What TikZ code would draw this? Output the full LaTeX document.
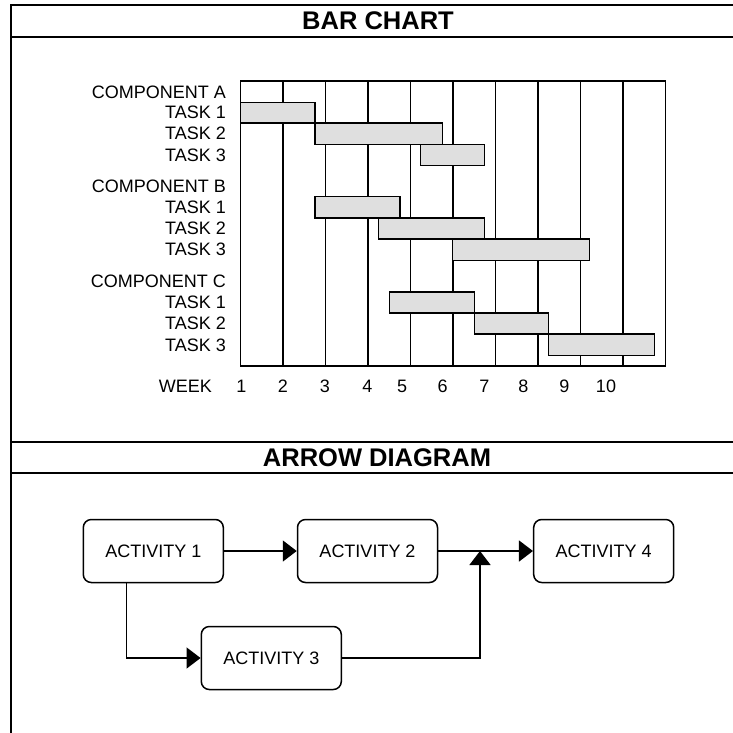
\documentclass[tikz,border=0pt]{standalone}
\usepackage{fontspec}
\setmainfont{Liberation Sans}
\usetikzlibrary{arrows.meta}
\tikzset{
  frameline/.style={line width=2pt},
  gridline/.style={line width=1.4pt},
  bar/.style={draw, fill=gray!25, line width=1.4pt},
  lbl/.style={anchor=east, inner sep=0pt, font=\fontsize{18}{20}\selectfont},
  wk/.style={inner sep=0pt, font=\fontsize{18}{20}\selectfont},
  heading/.style={inner sep=0pt, font=\bfseries\fontsize{25.5}{27}\selectfont},
  activity/.style={draw, line width=1.5pt, rounded corners=8pt, minimum width=140pt,
    minimum height=63pt, inner sep=0pt, font=\fontsize{18}{20}\selectfont},
  flow/.style={line width=1.5pt, -{Triangle[length=14pt,width=21pt]}}
}
\begin{document}
\begin{tikzpicture}[x=1pt,y=-1pt]
    \useasboundingbox (0,0) rectangle (733,732);
      % table frame
      \draw[frameline] (11,4) -- (11,740);
      \draw[frameline] (10,5) -- (740,5);
      \draw[frameline] (10,36.7) -- (740,36.7);
      \draw[frameline] (10,441.7) -- (740,441.7);
      \draw[frameline] (10,473.3) -- (740,473.3);
      \node[heading] (bartitle) at (378,20.8) {BAR CHART};
      \node[heading] (arrowtitle) at (377,457.5) {ARROW DIAGRAM};
      % bar chart grid
      \draw[gridline] (240.7,81) rectangle (665.3,366);
      \foreach \k in {1,...,9}
        \draw[gridline] (240.7+42.46*\k,81) -- (240.7+42.46*\k,366);
      % bars
      \draw[bar] (240.7,102.3) rectangle (315.0,122.9);
      \draw[bar] (315.0,122.9) rectangle (442.4,144.2);
      \draw[bar] (420.7,144.2) rectangle (484.3,165.5);
      \draw[bar] (315.0,196.7) rectangle (399.9,217.8);
      \draw[bar] (378.7,217.8) rectangle (484.3,239.0);
      \draw[bar] (452.7,239.0) rectangle (589.3,260.5);
      \draw[bar] (389.3,292.0) rectangle (474.2,312.8);
      \draw[bar] (474.2,312.8) rectangle (548.5,334.0);
      \draw[bar] (548.5,334.0) rectangle (654.7,355.6);
      % row labels
      \node[lbl] (compa) at (226,92) {COMPONENT A};
      \node[lbl] (a1) at (226,112.6) {TASK 1};
      \node[lbl] (a2) at (226,133.5) {TASK 2};
      \node[lbl] (a3) at (226,154.9) {TASK 3};
      \node[lbl] (compb) at (226,186) {COMPONENT B};
      \node[lbl] (b1) at (226,207.2) {TASK 1};
      \node[lbl] (b2) at (226,228.4) {TASK 2};
      \node[lbl] (b3) at (226,249.7) {TASK 3};
      \node[lbl] (compc) at (226,281) {COMPONENT C};
      \node[lbl] (c1) at (226,302.4) {TASK 1};
      \node[lbl] (c2) at (226,323.4) {TASK 2};
      \node[lbl] (c3) at (226,344.8) {TASK 3};
      % week axis
      \node[lbl] (week) at (212,386.5) {WEEK};
      \node[wk] (w1) at (241.3,386.5) {1};
      \node[wk] (w2) at (283,386.5) {2};
      \node[wk] (w3) at (325,386.5) {3};
      \node[wk] (w4) at (367.3,386.5) {4};
      \node[wk] (w5) at (402,386.5) {5};
      \node[wk] (w6) at (442.7,386.5) {6};
      \node[wk] (w7) at (484.3,386.5) {7};
      \node[wk] (w8) at (523.3,386.5) {8};
      \node[wk] (w9) at (564.3,386.5) {9};
      \node[wk] (w10) at (606,386.5) {10};
      % arrow diagram
      \node[activity] (act1) at (153.3,551) {ACTIVITY 1};
      \node[activity] (act2) at (367.5,551) {ACTIVITY 2};
      \node[activity] (act3) at (271.3,658) {ACTIVITY 3};
      \node[activity] (act4) at (603.7,551) {ACTIVITY 4};
      \coordinate (join) at (480,551);
      \draw[flow] (act1) -- (act2);
      \draw[flow] (act2) -- (act4);
      \draw[flow] (act3.east) -| (join);
      \draw[flow] ([xshift=-27pt]act1.south) |- (act3.west);
    \end{tikzpicture}
\end{document}
